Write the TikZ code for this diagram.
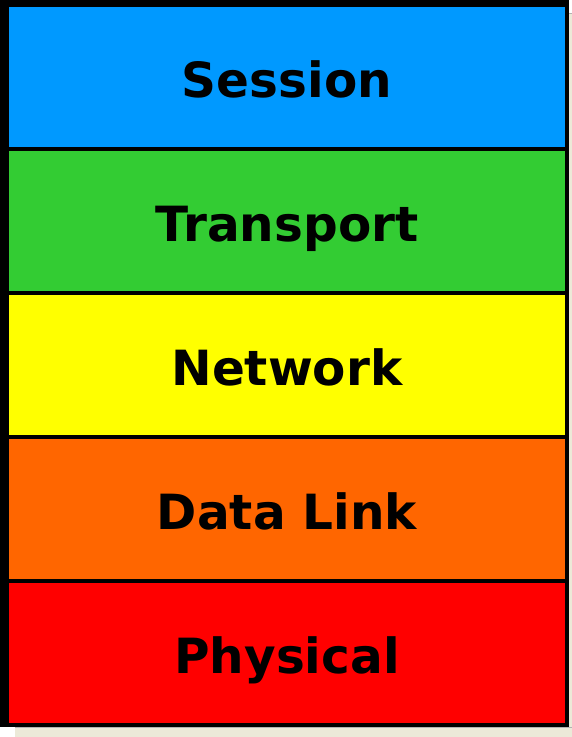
\documentclass[tikz,border=0pt]{standalone}
\usepackage{fontspec}
\setmainfont{DejaVu Sans}
\usetikzlibrary{positioning}
\definecolor{sessionblue}{HTML}{0099FF}
\definecolor{transportgreen}{HTML}{33CC33}
\definecolor{networkyellow}{HTML}{FFFF00}
\definecolor{linkorange}{HTML}{FF6600}
\definecolor{physicalred}{HTML}{FF0000}
\definecolor{winbeige}{HTML}{ECE9D8}

\begin{document}
\begin{tikzpicture}[x=1bp, y=-1bp]
    \tikzstyle{Layer} = [rectangle, inner sep=0cm, outer sep=0cm, minimum width=556bp, minimum height=140bp,
        text height=40bp, text depth=0bp, font=\fontsize{48.5bp}{50bp}\selectfont\bfseries]
    \useasboundingbox (0,0) rectangle (572,737);
    % shadow strips and frame
    \fill[winbeige] (15,727) rectangle (572,737);
    \fill[winbeige] (569,13) rectangle (572,737);
    \draw[gray!60, line width=1bp] (15,727.5) -- (572,727.5);
    \draw[gray!60, line width=1bp] (569,13.5) -- (572,13.5);
    \fill[black] (0,0) rectangle (569,727);
    \node[Layer, fill=sessionblue] (session) at (287,77) {Session};
    \node[Layer, fill=transportgreen] (transport) at (287,221) {Transport};
    \node[Layer, fill=networkyellow] (network) at (287,365) {Network};
    \node[Layer, fill=linkorange] (datalink) at (287,509) {Data Link};
    \node[Layer, fill=physicalred] (physical) at (287,653) {Physical};
\end{tikzpicture}
\end{document}
